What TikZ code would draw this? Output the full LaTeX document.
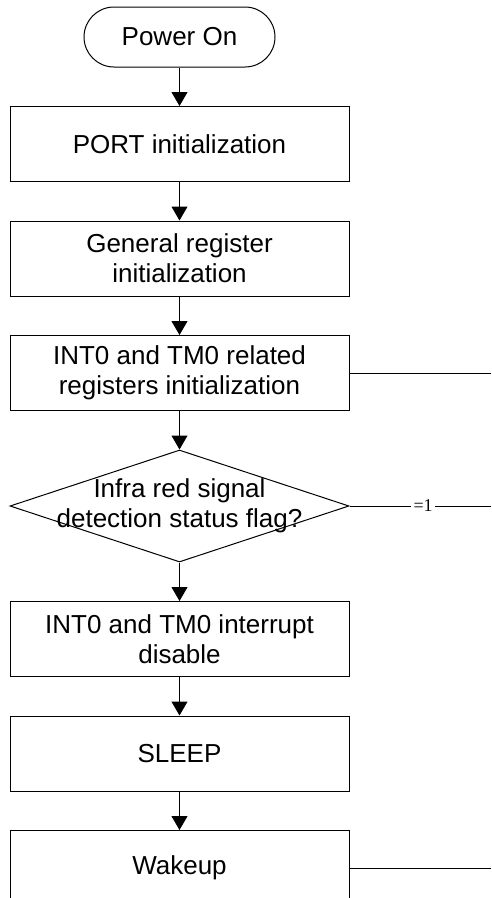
\documentclass[tikz,border=0pt]{standalone}
\usepackage{fontspec}
\setmainfont{Liberation Sans}
\newfontfamily\lblfont{Liberation Serif}
\usetikzlibrary{shapes.geometric,arrows.meta,positioning}
\tikzset{
  proc/.style={rectangle,draw,line width=1pt,minimum width=339pt,
    minimum height=75pt,align=center,font=\fontsize{26}{30}\selectfont},
  term/.style={rectangle,rounded corners=30pt,draw,line width=1pt,
    minimum width=191pt,minimum height=60pt,font=\fontsize{26}{30}\selectfont},
  flow/.style={-{Triangle[length=14pt,width=16pt]},line width=1pt},
}
\begin{document}
\begin{tikzpicture}[
  node distance=38.5pt,
  decide/.style={diamond,draw,line width=1pt,minimum width=339pt,
    minimum height=112pt,inner sep=0pt},
  side/.style={line width=1pt},
  eqlbl/.style={fill=white,inner sep=2.5pt,font=\lblfont\fontsize{18}{20}\selectfont},
]
  \useasboundingbox (0,0) rectangle (491pt,-898pt);
  \coordinate (rim) at (491pt,0);

  \node[term] (power) at (179.5pt,-37pt) {Power On};
  \node[proc,below=of power] (port) {PORT initialization};
  \node[proc,below=of port] (genreg) {General register\\initialization};
  \node[proc,below=of genreg] (intinit) {INT0 and TM0 related\\registers initialization};
  \node[decide,below=of intinit] (irflag) {};
  \node[align=center,font=\fontsize{26}{30}\selectfont] (irtext) at (irflag)
    {Infra red signal\\detection status flag?};
  \node[proc,below=of irflag] (intdis) {INT0 and TM0 interrupt\\disable};
  \node[proc,below=of intdis] (sleep) {SLEEP};
  \node[proc,below=of sleep] (wakeup) {Wakeup};

  \draw[flow] (power) -- (port);
  \draw[flow] (port) -- (genreg);
  \draw[flow] (genreg) -- (intinit);
  \draw[flow] (intinit) -- (irflag);
  \draw[flow] (irflag) -- (intdis);
  \draw[flow] (intdis) -- (sleep);
  \draw[flow] (sleep) -- (wakeup);

  \draw[side] (intinit.east) -- (intinit.east -| rim);
  \draw[side] (irflag.east) -- node[eqlbl,pos=.52] (eqone) {=1} (irflag.east -| rim);
  \draw[side] (wakeup.east) -- (wakeup.east -| rim);
\end{tikzpicture}
\end{document}
